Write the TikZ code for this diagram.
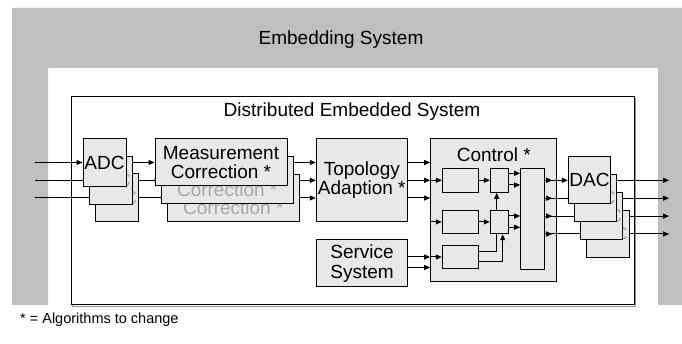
\documentclass[tikz,border=0pt]{standalone}
\usepackage{fontspec}
\setmainfont{Liberation Sans}
\usetikzlibrary{arrows.meta}
\pgfdeclarelayer{back}
\pgfdeclarelayer{wires}
\pgfsetlayers{back,wires,main}
\tikzset{
  blk/.style={draw,fill=black!9,line width=1pt,inner sep=0pt,align=center,
    font=\fontsize{19}{19.5}\selectfont},
  ghost/.style={blk,text=black!35},
  lbl/.style={inner sep=0pt,font=\fontsize{19}{19.5}\selectfont},
  arr/.style={line width=1pt,-{Triangle[length=6pt,width=5pt]}},
  wire/.style={line width=1pt},
}
\begin{document}
\begin{tikzpicture}[x=1pt,y=-1pt]
\useasboundingbox (0,0) rectangle (682,344);
\begin{pgfonlayer}{back}
  \fill[black!25] (12,8) -| (682,305) -- (658,305) |- (48,68) -- (48,305) -- (12,305) -- cycle;
  \draw[black!40,line width=1pt] (72.3,98.3) rectangle (635.3,306.3);
  \draw[line width=1pt,fill=white] (71,97) rectangle (634,305);
\end{pgfonlayer}
\node[lbl] (emb) at (341,40) {Embedding System};
\node[lbl] (des) at (352,112) {Distributed Embedded System};

\node[ghost,minimum width=43pt,minimum height=48pt] (adc3) at (117,198) {ADC};
\node[ghost,minimum width=43pt,minimum height=48pt] (adc2) at (110.8,180.3) {ADC};
\node[blk,minimum width=43pt,minimum height=48pt] (adc1) at (104.5,162.5) {ADC};

\node[ghost,minimum width=132pt,minimum height=47pt] (meas3) at (233.3,198) {Measurement\\Correction *};
\node[ghost,minimum width=132pt,minimum height=47pt] (meas2) at (227.2,180.3) {Measurement\\Correction *};
\node[blk,minimum width=132pt,minimum height=47pt] (meas1) at (221,162.5) {Measurement\\Correction *};

\node[blk,minimum width=91pt,minimum height=83.4pt] (topo) at (361.8,180) {Topology\\Adaption *};
\node[blk,minimum width=91pt,minimum height=47pt] (svc) at (362,263.5) {Service\\System};

\node[blk,minimum width=126.3pt,minimum height=143.4pt] (ctrl) at (493.8,210) {};
\node[lbl] (ctrlttl) at (493.8,155) {Control *};
\node[blk,minimum width=36.4pt,minimum height=24pt] (A) at (460.5,180.3) {};
\node[blk,minimum width=36.4pt,minimum height=23.7pt] (B) at (460.5,221.9) {};
\node[blk,minimum width=36.4pt,minimum height=23.3pt] (C) at (460.5,257) {};
\node[blk,minimum width=18.4pt,minimum height=24pt] (S1) at (499.5,180.3) {};
\node[blk,minimum width=18.4pt,minimum height=23.7pt] (S2) at (499.5,221.9) {};
\node[blk,minimum width=24pt,minimum height=101pt] (tall) at (532.7,218.8) {};

\node[ghost,minimum width=42.4pt,minimum height=47.3pt] (dac4) at (607.8,234) {DAC};
\node[ghost,minimum width=42.4pt,minimum height=47.3pt] (dac3) at (601.7,216.1) {DAC};
\node[ghost,minimum width=42.4pt,minimum height=47.3pt] (dac2) at (595.6,198.2) {DAC};
\node[blk,minimum width=42.4pt,minimum height=47.3pt] (dac1) at (589.5,180.3) {DAC};

\node[anchor=west,inner sep=0pt,font=\fontsize{14.5}{16}\selectfont] (note) at (20,320) {* = Algorithms to change};

\coordinate (in1) at (35,162.5);
\coordinate (in2) at (35,180.3);
\coordinate (in3) at (35,198);
\coordinate (out1) at (669,180.3);
\coordinate (out2) at (669,198.2);
\coordinate (out3) at (669,216.1);
\coordinate (out4) at (669,234);

\begin{pgfonlayer}{wires}
  \draw[arr] (in1) -- (adc1);
  \draw[arr] (in2) -- (adc2);
  \draw[arr] (in3) -- (adc3);
  \draw[arr] (adc1) -- (meas1.west |- adc1);
  \draw[arr] (adc2) -- (meas2.west |- adc2);
  \draw[arr] (adc3) -- (meas3.west |- adc3);
  \draw[arr] (meas1) -- (topo.west |- meas1);
  \draw[arr] (meas2) -- (topo.west |- meas2);
  \draw[arr] (meas3) -- (topo.west |- meas3);
  \draw[arr] (topo.east |- meas1) -- (ctrl.west |- meas1);
  \draw[arr] (topo.east |- meas2) -- (ctrl.west |- meas2);
  \draw[arr] (topo.east |- meas3) -- (ctrl.west |- meas3);
  \draw[arr] (svc.east |- C) -- (ctrl.west |- C);
  \coordinate (sv2) at ([yshift=-10.5pt]svc.east |- C);
  \draw[arr] (sv2) -- (sv2 -| ctrl.west);
  \draw[arr] (ctrl.east |- dac1) -- (dac1);
  \draw[arr] (ctrl.east |- dac2) -- (dac2);
  \draw[arr] (ctrl.east |- dac3) -- (dac3);
  \draw[arr] (ctrl.east |- dac4) -- (dac4);
  \draw[arr] (dac1) -- (out1);
  \draw[arr] (dac2) -- (out2);
  \draw[arr] (dac3) -- (out3);
  \draw[arr] (dac4) -- (out4);
\end{pgfonlayer}

\draw[arr] (ctrl.west |- A) -- (A);
\draw[arr] (ctrl.west |- B) -- (B);
\draw[arr] (ctrl.west |- C) -- (C);
\draw[arr] (A) -- (S1);
\draw[arr] (B) -- (S2);
\draw[arr] ([xshift=-2.8pt]S2.north) -- ([xshift=-2.8pt]S1.south);
\draw[wire] ([yshift=5.3pt]C.east) -| ([xshift=-2.8pt]S2.south);
\draw[arr] ([yshift=-4.7pt]C.east) -| ([xshift=3.2pt]S2.south);
\coordinate (s1a) at ([yshift=7pt]S1.east);
\coordinate (s1b) at ([yshift=-4.7pt]S1.east);
\coordinate (s2a) at ([yshift=5.9pt]S2.east);
\coordinate (s2b) at ([yshift=-5.4pt]S2.east);
\draw[arr] (s1a) -- (s1a -| tall.west);
\draw[arr] (s1b) -- (s1b -| tall.west);
\draw[arr] (s2a) -- (s2a -| tall.west);
\draw[arr] (s2b) -- (s2b -| tall.west);
\draw[wire] (tall.east |- dac1) -- (ctrl.east |- dac1);
\draw[wire] (tall.east |- dac2) -- (ctrl.east |- dac2);
\draw[wire] (tall.east |- dac3) -- (ctrl.east |- dac3);
\draw[wire] (tall.east |- dac4) -- (ctrl.east |- dac4);
\draw[arr] (tall.east |- dac1) -- ++(7,0);
\draw[arr] (tall.east |- dac2) -- ++(7,0);
\draw[arr] (tall.east |- dac3) -- ++(7,0);
\draw[arr] (tall.east |- dac4) -- ++(7,0);
\end{tikzpicture}
\end{document}
